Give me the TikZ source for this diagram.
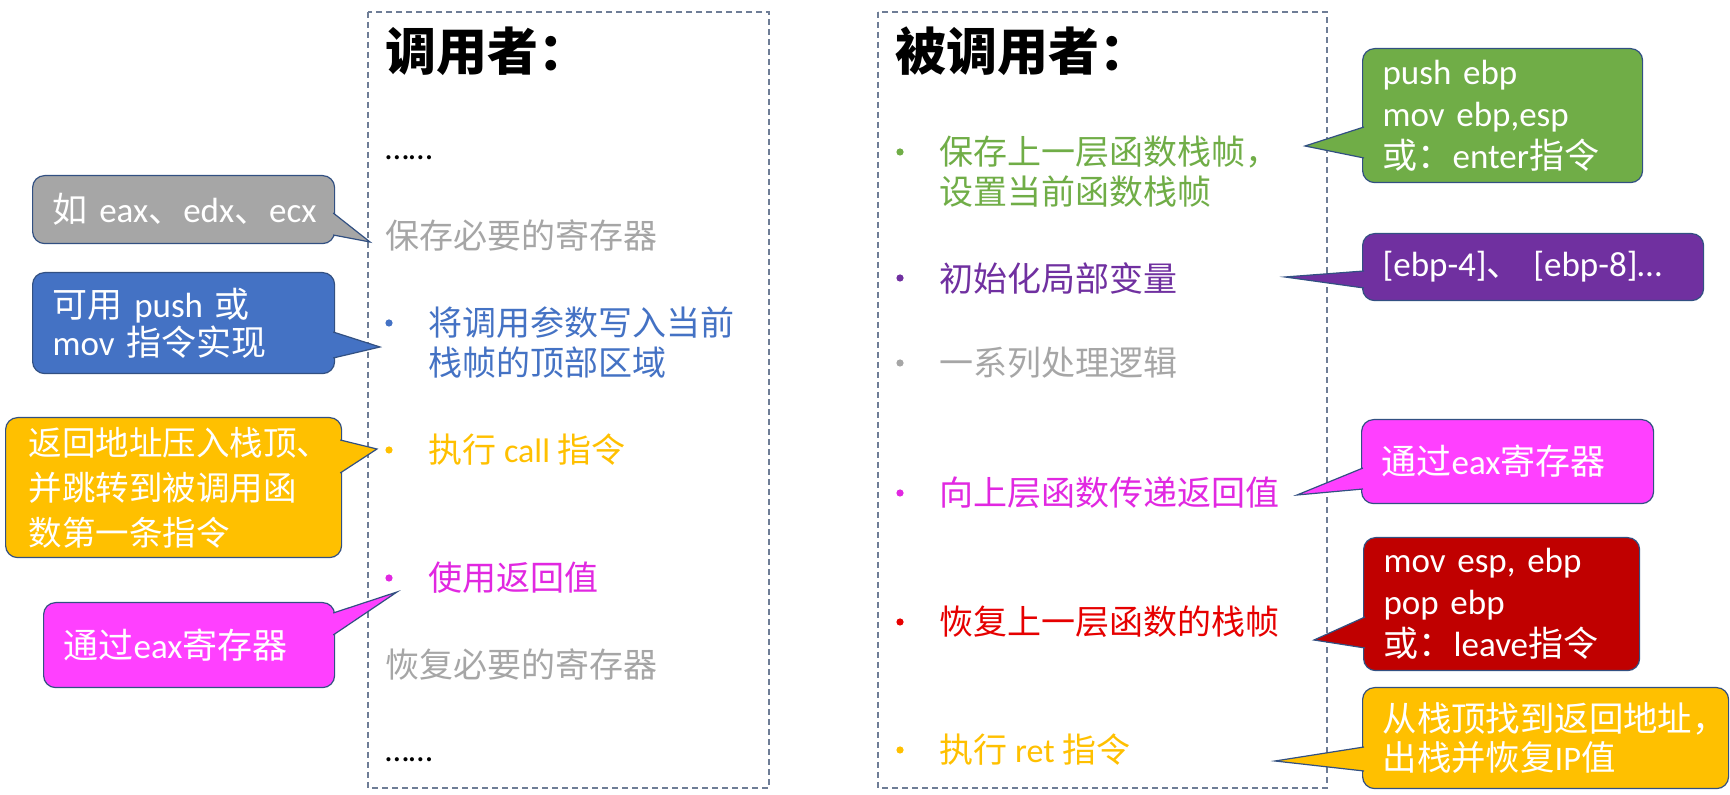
\documentclass[tikz,border=0pt]{standalone}
\usepackage{fontspec}
\setmainfont{Noto Sans CJK SC}
\newfontfamily\lat{Carlito}
\definecolor{framecol}{RGB}{110,125,150}
\definecolor{edgecol}{RGB}{50,80,130}
\definecolor{cgray}{RGB}{166,166,166}
\definecolor{cblue}{RGB}{68,114,196}
\definecolor{corange}{RGB}{255,192,0}
\definecolor{cmagenta}{RGB}{255,64,255}
\definecolor{cgreen}{RGB}{112,173,71}
\definecolor{cpurple}{RGB}{112,48,160}
\definecolor{cred}{RGB}{192,0,0}
\definecolor{tmagenta}{RGB}{225,40,225}
\definecolor{tred}{RGB}{230,0,0}
\tikzset{
  frame/.style={draw=framecol,line width=0.6pt,dash pattern=on 3pt off 2pt},
  callbox/.style={draw=edgecol,line width=0.6pt,rounded corners=6pt,text=white,align=left,
    inner xsep=10pt,inner ysep=0pt,font=\fontsize{17.5}{21}\selectfont},
  tip/.style={draw=edgecol,line width=0.6pt,line join=miter},
  item/.style={anchor=west,align=left,inner sep=0pt,font=\fontsize{17}{20}\selectfont},
  heading/.style={anchor=west,inner sep=0pt,font=\fontsize{25.5}{28}\selectfont\bfseries},
}
\begin{document}
\begin{tikzpicture}[x=0.5pt,y=-0.5pt]
  \path[use as bounding box,fill=white] (0,0) rectangle (1730,795);
  % the two columns
  \draw[frame] (368,12) rectangle (769,788);
  \draw[frame] (878,12) rectangle (1327,788);

  \node[heading] (caller) at (385,51) {调用者：};
  \node[item,anchor=base west,font=\fontsize{17}{20}\selectfont\lat] (dotsa) at (385,160) {……};
  \node[item,text=cgray] (savereg) at (385,235) {保存必要的寄存器};
  \fill[cblue] (389,323) circle (1.8pt);
  \node[item,text=cblue] (args) at (428,343) {将调用参数写入当前\\栈帧的顶部区域};
  \fill[corange] (389,450) circle (1.8pt);
  \node[item,text=corange] (call) at (428,450) {执行{\lat\ call\ }指令};
  \fill[tmagenta] (389,578) circle (1.8pt);
  \node[item,text=tmagenta] (useret) at (428,578) {使用返回值};
  \node[item,text=cgray] (restreg) at (385,665) {恢复必要的寄存器};
  \node[item,anchor=base west,font=\fontsize{17}{20}\selectfont\lat] (dotsb) at (385,762) {……};

  \node[heading] (callee) at (895,51) {被调用者：};
  \fill[cgreen] (900,152) circle (1.8pt);
  \node[item,text=cgreen] (saveframe) at (939,172) {保存上一层函数栈帧，\\设置当前函数栈帧};
  \fill[cpurple] (900,278) circle (1.8pt);
  \node[item,text=cpurple] (initvar) at (939,278) {初始化局部变量};
  \fill[cgray] (900,363) circle (1.8pt);
  \node[item,text=cgray] (logic) at (939,363) {一系列处理逻辑};
  \fill[tmagenta] (900,493) circle (1.8pt);
  \node[item,text=tmagenta] (retval) at (939,493) {向上层函数传递返回值};
  \fill[tred] (900,622) circle (1.8pt);
  \node[item,text=tred] (restframe) at (939,622) {恢复上一层函数的栈帧};
  \fill[corange] (900,750) circle (1.8pt);
  \node[item,text=corange] (ret) at (939,750) {执行{\lat\ ret\ }指令};

  % callouts on the left
  \node[callbox,fill=cgray,anchor=north west,minimum width=151pt,minimum height=34pt,text width=131pt] (gbox) at (32,175)
    {如{\lat~eax}、{\lat edx}、{\lat ecx}};
  \coordinate (gtip) at (370,242);
  \path[tip,fill=cgray] ([shift={(-1pt,-19pt)}]gbox.north east) -- (gtip) -- ([shift={(-1pt,-30pt)}]gbox.north east);

  \node[callbox,fill=cblue,anchor=north west,minimum width=151pt,minimum height=50.5pt,text width=131pt,
    font=\fontsize{17.5}{19}\selectfont] (bbox) at (32,272)
    {可用{\lat\ push\ }或\\{\lat mov\ }指令实现};
  \coordinate (btip) at (380,347);
  \path[tip,fill=cblue] ([shift={(-1pt,-30pt)}]bbox.north east) -- (btip) -- ([shift={(-1pt,-43pt)}]bbox.north east);

  \node[callbox,fill=corange,anchor=north west,minimum width=165pt,minimum height=70pt,text width=145pt,
    inner xsep=11.5pt,font=\fontsize{16.75}{22.5}\selectfont] (obox) at (5,417)
    {返回地址压入栈顶、\\并跳转到被调用函\\数第一条指令};
  \coordinate (otip) at (377,449);
  \path[tip,fill=corange] ([shift={(-1pt,-11.5pt)}]obox.north east) -- (otip) -- ([shift={(-1pt,-28pt)}]obox.north east);

  \node[callbox,fill=cmagenta,anchor=north west,minimum width=145.5pt,minimum height=42.5pt,text width=125.5pt] (mbox) at (43,602)
    {通过{\lat eax}寄存器};
  \coordinate (mtip) at (397,592);
  \path[tip,fill=cmagenta] ([shift={(-1pt,-5.5pt)}]mbox.north east) -- (mtip) -- ([shift={(-1pt,-16.5pt)}]mbox.north east);

  % callouts on the right
  \node[callbox,fill=cgreen,anchor=north west,minimum width=140pt,minimum height=67pt,text width=120pt] (grbox) at (1362,48)
    {{\lat push ebp}\\{\lat mov ebp,esp}\\或：{\lat enter}指令};
  \coordinate (grtip) at (1305,146);
  \path[tip,fill=cgreen] ([shift={(1pt,-39.5pt)}]grbox.north west) -- (grtip) -- ([shift={(1pt,-55pt)}]grbox.north west);

  \node[callbox,fill=cpurple,anchor=north west,minimum width=170.5pt,minimum height=33.5pt,text width=150.5pt] (pbox) at (1362,233)
    {{\lat [ebp-4]}、 {\lat [ebp-8]…}};
  \coordinate (ptip) at (1285,277);
  \path[tip,fill=cpurple] ([shift={(1pt,-19pt)}]pbox.north west) -- (ptip) -- ([shift={(1pt,-27.5pt)}]pbox.north west);

  \node[callbox,fill=cmagenta,anchor=north west,minimum width=146pt,minimum height=42pt,text width=126pt] (mrbox) at (1361,419)
    {通过{\lat eax}寄存器};
  \coordinate (mrtip) at (1297,495);
  \path[tip,fill=cmagenta] ([shift={(1pt,-24.5pt)}]mrbox.north west) -- (mrtip) -- ([shift={(1pt,-35pt)}]mrbox.north west);

  \node[callbox,fill=cred,anchor=north west,minimum width=138pt,minimum height=66.5pt,text width=118pt] (rbox) at (1363,537)
    {{\lat mov esp, ebp}\\{\lat pop ebp}\\或：{\lat leave}指令};
  \coordinate (rtip) at (1314,640);
  \path[tip,fill=cred] ([shift={(1pt,-40pt)}]rbox.north west) -- (rtip) -- ([shift={(1pt,-55.5pt)}]rbox.north west);

  \node[callbox,fill=corange,anchor=north west,minimum width=183pt,minimum height=50.5pt,text width=163pt,
    font=\fontsize{17.2}{19.5}\selectfont] (orbox) at (1362,687)
    {从栈顶找到返回地址，\\出栈并恢复{\lat IP}值};
  \coordinate (ortip) at (1275,761);
  \path[tip,fill=corange] ([shift={(1pt,-30pt)}]orbox.north west) -- (ortip) -- ([shift={(1pt,-42pt)}]orbox.north west);
\end{tikzpicture}
\end{document}
